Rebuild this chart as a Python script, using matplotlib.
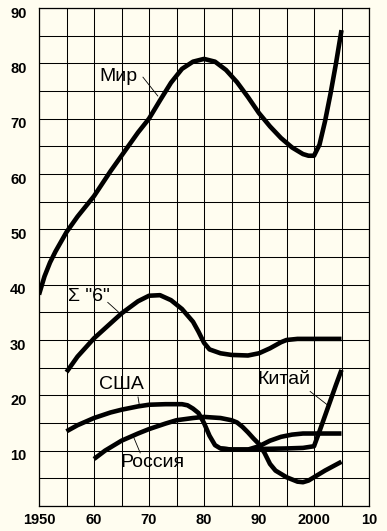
import numpy as np
import matplotlib
matplotlib.use("Agg")
import matplotlib.pyplot as plt
from matplotlib.transforms import ScaledTranslation

# values
world_years = [1950, 1951, 1952, 1953, 1955, 1957, 1960, 1963, 1965, 1968, 1970, 1972,
               1974, 1976, 1978, 1980, 1982, 1984, 1986, 1988, 1990, 1992, 1994, 1996,
               1998, 1999, 2000, 2001, 2002, 2003, 2004, 2005]
world_vals = [38.2, 41.5, 44.0, 46.0, 49.5, 52.3, 56.0, 60.5, 63.3, 67.5, 70.0, 73.3,
              76.5, 79.0, 80.3, 80.8, 80.3, 78.8, 76.6, 73.9, 71.0, 68.6, 66.5, 64.8,
              63.6, 63.3, 63.3, 65.3, 69.5, 74.5, 80.0, 86.0]

six_years = [1955, 1957, 1960, 1963, 1965, 1968, 1970, 1972, 1974, 1976, 1978, 1979,
             1980, 1981, 1983, 1985, 1988, 1990, 1992, 1994, 1995, 1997, 2000, 2005]
six_vals = [24.2, 27.0, 30.3, 33.0, 34.8, 37.0, 38.0, 38.1, 37.2, 35.6, 33.3, 31.5,
            29.5, 28.3, 27.6, 27.3, 27.2, 27.6, 28.5, 29.6, 30.0, 30.2, 30.2, 30.2]

usa_years = [1955, 1957, 1960, 1963, 1965, 1968, 1970, 1973, 1976, 1977, 1978, 1979,
             1980, 1981, 1982, 1983, 1985, 1988, 1990, 1992, 1994, 1996, 1998, 2000, 2005]
usa_vals = [13.5, 14.6, 15.9, 16.9, 17.4, 18.0, 18.3, 18.4, 18.4, 18.2, 17.6, 16.8,
            15.0, 12.7, 11.0, 10.4, 10.2, 10.2, 10.8, 11.8, 12.5, 12.9, 13.1, 13.1, 13.1]

rus_years = [1960, 1962, 1965, 1968, 1970, 1973, 1975, 1978, 1980, 1983, 1985, 1986,
             1987, 1988, 1989, 1990, 1991, 1992, 1993, 1995, 1997, 1998, 1999, 2000,
             2002, 2005]
rus_vals = [8.5, 10.0, 11.8, 13.1, 13.9, 14.9, 15.5, 15.9, 16.1, 15.9, 15.5, 15.1,
            14.3, 13.3, 12.2, 11.2, 9.6, 7.6, 6.4, 5.2, 4.4, 4.3, 4.6, 5.2, 6.4, 8.0]

china_years = [1983, 1985, 1988, 1990, 1995, 1998, 2000, 2001, 2002, 2003, 2004, 2005]
china_vals = [10.4, 10.2, 10.2, 10.3, 10.4, 10.5, 10.8, 13.5, 16.3, 19.1, 21.9, 24.6]

# label text, text position, leader start, leader end
labels = [
    ("Мир", (1964.5, 77.7), (1968.9, 77.5), (1971.6, 74.1)),
    ('Σ "6"', (1959.1, 37.9), (1962.5, 36.8), (1964.4, 35.1)),
    ("США", (1964.9, 21.9), (1968.0, 19.7), (1968.2, 18.5)),
    ("Россия", (1970.7, 7.8), (1967.1, 12.7), (1968.4, 9.6)),
    ("Китай", (1994.5, 22.8), (1999.3, 20.7), (2002.4, 18.3)),
]

bg = "#fffdf0"
fig = plt.figure(figsize=(3.87, 5.31), dpi=100, facecolor=bg)
ax = fig.add_axes((39/387, 1 - 506/531, 330/387, 498/531))
ax.set_facecolor(bg)

for yrs, vals in [(world_years, world_vals), (six_years, six_vals), (usa_years, usa_vals),
                  (rus_years, rus_vals), (china_years, china_vals)]:
    ax.plot(yrs, vals, color="black", lw=3.3, solid_joinstyle="round",
            solid_capstyle="butt", zorder=3)

for txt, pos, p0, p1 in labels:
    ax.text(pos[0], pos[1], txt, ha="center", va="center", fontsize=14,
            family="Liberation Sans", zorder=4)
    ax.plot([p0[0], p1[0]], [p0[1], p1[1]], color="black", lw=0.6, zorder=4)

ax.set_xlim(1950, 2010)
ax.set_ylim(0, 90)
xt = list(range(1950, 2011, 5))
xl = {1950: "1950", 1960: "60", 1970: "70", 1980: "80", 1990: "90", 2000: "2000", 2010: "10"}
ax.set_xticks(xt)
ax.set_xticklabels([xl.get(x, "") for x in xt])
yt = list(range(0, 91, 5))
ax.set_yticks(yt)
ax.set_yticklabels([str(y) if (y % 10 == 0 and y > 0) else "" for y in yt])
ax.tick_params(length=0, labelsize=10.5)
ax.tick_params(axis="x", pad=5)
ax.tick_params(axis="y", pad=9)
for lab in ax.get_xticklabels() + ax.get_yticklabels():
    lab.set_fontweight("bold")
    lab.set_family("Liberation Sans")
off = ScaledTranslation(0, -3/72, fig.dpi_scale_trans)
for lab in ax.get_yticklabels():
    lab.set_transform(lab.get_transform() + off)

ax.grid(True, color="black", lw=0.75)
ax.set_axisbelow(True)
for s in ax.spines.values():
    s.set_linewidth(0.9)

fig.savefig("out.png", dpi=100, facecolor=bg)
